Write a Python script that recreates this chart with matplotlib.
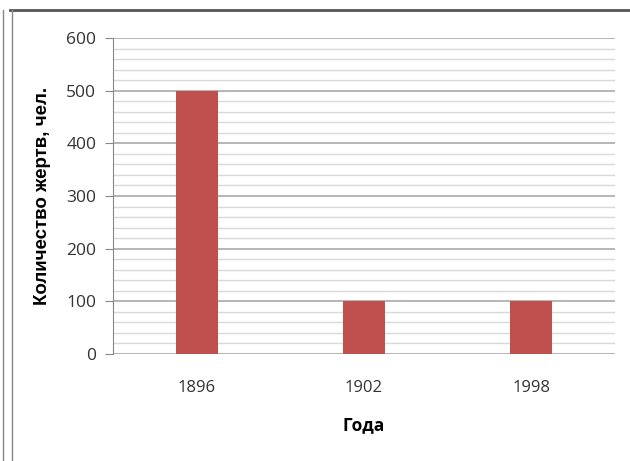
import numpy as np
import matplotlib.pyplot as plt
from matplotlib.lines import Line2D

# data
years = ['1896', '1902', '1998']
victims = [500, 100, 100]

fig = plt.figure(figsize=(6.3, 4.61), dpi=100)
ax = fig.add_axes([0.1794, 0.2321, 0.7966, 0.6855])

x_pos = np.arange(len(years))
ax.bar(x_pos, victims, width=0.25, color='#C0504D', zorder=3)

ax.set_xlim(-0.5, 2.5)
ax.set_ylim(0, 600)
ax.set_yticks(np.arange(0, 601, 100))
ax.set_yticks(np.arange(0, 601, 20), minor=True)
ax.grid(axis='y', which='major', color='#B0B0B0', linewidth=1.3, zorder=0)
ax.grid(axis='y', which='minor', color='#D9D9D9', linewidth=1.0, zorder=0)

ax.set_xticks(x_pos)
ax.set_xticklabels(years, family='Open Sans', fontsize=12, color='#333333')
ax.tick_params(axis='x', length=0, pad=19)
ax.tick_params(axis='y', which='major', length=6, color='#888888', pad=6,
               labelsize=12.5, labelcolor='#333333')
ax.tick_params(axis='y', which='minor', length=0)
for lab in ax.get_yticklabels():
    lab.set_family('Open Sans')

for s in ['top', 'right', 'bottom']:
    ax.spines[s].set_visible(False)
ax.spines['left'].set_color('#888888')

ax.set_ylabel('Количество жертв, чел.', family='Liberation Sans', fontweight='bold',
              fontsize=13.5, labelpad=11)
ax.set_xlabel('Года', family='Open Sans', fontweight='bold', fontsize=12.5, labelpad=14)

# outer frame lines of the original screenshot
fig.add_artist(Line2D([10 / 630, 1], [1 - 10 / 461] * 2, transform=fig.transFigure,
                      color='#555555', linewidth=2))
fig.add_artist(Line2D([3 / 630] * 2, [0, 1 - 10 / 461], transform=fig.transFigure,
                      color='#888888', linewidth=1))
fig.add_artist(Line2D([12 / 630] * 2, [0, 1 - 10 / 461], transform=fig.transFigure,
                      color='#888888', linewidth=1))

fig.savefig('out.png', dpi=100)
